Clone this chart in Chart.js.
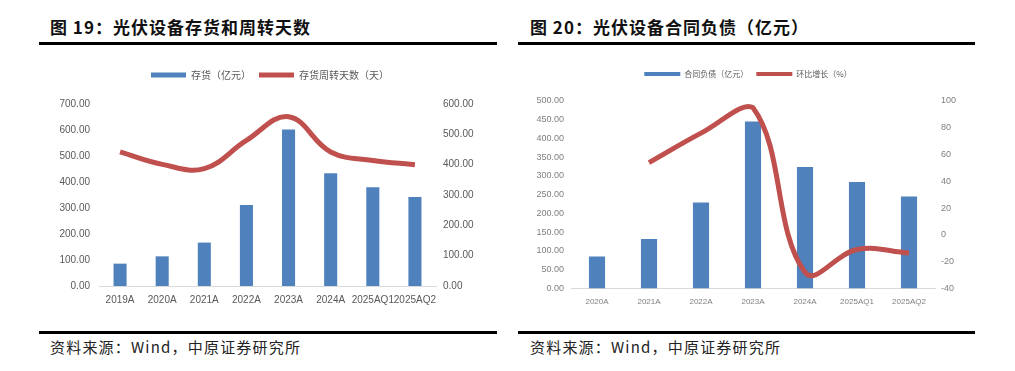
<!DOCTYPE html>
<html>
<head>
<meta charset="utf-8">
<script src="https://cdn.jsdelivr.net/npm/chart.js@4"></script>
<style>
  body { margin: 0; background: #fff; width: 1015px; height: 371px; position: relative; overflow: hidden; }
  .title { position: absolute; top: 14px; font-family: "Noto Sans CJK SC", sans-serif; font-weight: bold; font-size: 17px; letter-spacing: 1px; color: #111; white-space: nowrap; }
  .rule { position: absolute; height: 3px; background: #000; }
  .source { position: absolute; top: 336px; font-family: "Noto Sans CJK SC", sans-serif; font-size: 15px; letter-spacing: 1.2px; color: #222; white-space: nowrap; }
  .box { position: absolute; }
</style>
</head>
<body>
<div class="title" style="left:50px">图 19：光伏设备存货和周转天数</div>
<div class="rule" style="left:39px; width:458px; top:42px"></div>
<div class="box" style="left:40px; top:62px; width:460px; height:252px"><canvas id="invChart"></canvas></div>
<div class="rule" style="left:39px; width:458px; top:331px"></div>
<div class="source" style="left:50px">资料来源：Wind，中原证券研究所</div>

<div class="title" style="left:530px">图 20：光伏设备合同负债（亿元）</div>
<div class="rule" style="left:518px; width:457px; top:42px"></div>
<div class="box" style="left:518px; top:62px; width:460px; height:254px"><canvas id="liabChart"></canvas></div>
<div class="rule" style="left:518px; width:457px; top:331px"></div>
<div class="source" style="left:530px">资料来源：Wind，中原证券研究所</div>

<script>
// Chart 19: inventory and turnover days
const invLabels = ['2019A', '2020A', '2021A', '2022A', '2023A', '2024A', '2025AQ1', '2025AQ2'];
const inventory = [86, 114, 167, 312, 602, 434, 380, 342];
const turnoverDays = [442, 401, 387, 480, 558, 442, 414, 400];

// Chart 20: contract liabilities and QoQ growth
const liabLabels = ['2020A', '2021A', '2022A', '2023A', '2024A', '2025AQ1', '2025AQ2'];
const liabilities = [85, 132, 229, 445, 324, 284, 245];
const liabGrowth = [null, 54, 76, 95, -28, -11, -13.5];

const BLUE = '#4F81BD';
const RED = '#C0504D';
const GREY = '#595959';

function legendLabels(chart) {
  const items = Chart.defaults.plugins.legend.labels.generateLabels(chart);
  items.forEach(item => {
    item.fillStyle = item.strokeStyle;
    item.lineWidth = 0;
  });
  return items;
}

function fixedWidth(w) {
  return function(scale) { scale.width = w; };
}

// push the plot area down under the legend
function legendGap(extra) {
  return {
    id: 'legendGap',
    beforeInit(chart) {
      const fit = chart.legend.fit;
      chart.legend.fit = function() {
        fit.bind(chart.legend)();
        this.height += extra;
      };
    }
  };
}

// Left chart
new Chart(document.getElementById('invChart').getContext('2d'), {
  data: {
    labels: invLabels,
    datasets: [
      {
        type: 'bar',
        label: '存货（亿元）',
        data: inventory,
        backgroundColor: BLUE,
        borderColor: BLUE,
        yAxisID: 'y',
        categoryPercentage: 1,
        barPercentage: 0.31,
        order: 2
      },
      {
        type: 'line',
        label: '存货周转天数（天）',
        data: turnoverDays,
        borderColor: RED,
        backgroundColor: RED,
        borderWidth: 5,
        pointRadius: 0,
        tension: 0.4,
        yAxisID: 'y1',
        order: 1
      }
    ]
  },
  plugins: [legendGap(14)],
  options: {
    responsive: true,
    maintainAspectRatio: false,
    animation: false,
    layout: { padding: 0 },
    plugins: {
      legend: {
        position: 'top',
        labels: {
          boxWidth: 35,
          boxHeight: 5,
          padding: 8,
          color: GREY,
          font: { family: '"Noto Sans CJK SC", sans-serif', size: 10 },
          generateLabels: legendLabels,
          sort: (a, b) => a.datasetIndex - b.datasetIndex
        }
      },
      tooltip: { enabled: false }
    },
    scales: {
      x: {
        grid: { display: false, drawTicks: false },
        border: { color: '#d9d9d9' },
        ticks: { color: GREY, font: { family: '"Liberation Sans", sans-serif', size: 10 }, maxRotation: 0, autoSkip: false, padding: 8 }
      },
      y: {
        position: 'left',
        min: 0,
        max: 700,
        afterFit: fixedWidth(59),
        grid: { display: false, drawTicks: false },
        border: { display: false },
        ticks: { stepSize: 100, color: GREY, padding: 9, font: { family: '"Liberation Sans", sans-serif', size: 10 }, callback: v => v.toFixed(2) }
      },
      y1: {
        position: 'right',
        min: 0,
        max: 600,
        afterFit: fixedWidth(64),
        grid: { display: false, drawTicks: false },
        border: { display: false },
        ticks: { stepSize: 100, color: GREY, padding: 7, font: { family: '"Liberation Sans", sans-serif', size: 10 }, callback: v => v.toFixed(2) }
      }
    }
  }
});

// Right chart
new Chart(document.getElementById('liabChart').getContext('2d'), {
  data: {
    labels: liabLabels,
    datasets: [
      {
        type: 'bar',
        label: '合同负债（亿元）',
        data: liabilities,
        backgroundColor: BLUE,
        borderColor: BLUE,
        yAxisID: 'y',
        categoryPercentage: 1,
        barPercentage: 0.31,
        order: 2
      },
      {
        type: 'line',
        label: '环比增长（%）',
        data: liabGrowth,
        borderColor: RED,
        backgroundColor: RED,
        borderWidth: 5,
        pointRadius: 0,
        tension: 0.4,
        yAxisID: 'y1',
        order: 1
      }
    ]
  },
  plugins: [legendGap(13)],
  options: {
    responsive: true,
    maintainAspectRatio: false,
    animation: false,
    layout: { padding: 0 },
    plugins: {
      legend: {
        position: 'top',
        labels: {
          boxWidth: 36,
          boxHeight: 4,
          padding: 8,
          color: GREY,
          font: { family: '"Noto Sans CJK SC", sans-serif', size: 8 },
          generateLabels: legendLabels,
          sort: (a, b) => a.datasetIndex - b.datasetIndex
        }
      },
      tooltip: { enabled: false }
    },
    scales: {
      x: {
        grid: { display: false, drawTicks: false },
        border: { color: '#d9d9d9' },
        ticks: { color: '#7f7f7f', font: { family: '"Liberation Sans", sans-serif', size: 8 }, maxRotation: 0, autoSkip: false, padding: 9 }
      },
      y: {
        position: 'left',
        min: 0,
        max: 500,
        afterFit: fixedWidth(53),
        grid: { display: false, drawTicks: false },
        border: { display: false },
        ticks: { stepSize: 50, color: '#7f7f7f', padding: 7, font: { family: '"Liberation Sans", sans-serif', size: 9 }, callback: v => v.toFixed(2) }
      },
      y1: {
        position: 'right',
        min: -40,
        max: 100,
        afterFit: fixedWidth(43),
        grid: { display: false, drawTicks: false },
        border: { display: false },
        ticks: { stepSize: 20, color: '#7f7f7f', padding: 6, font: { family: '"Liberation Sans", sans-serif', size: 9 } }
      }
    }
  }
});
</script>
</body>
</html>
